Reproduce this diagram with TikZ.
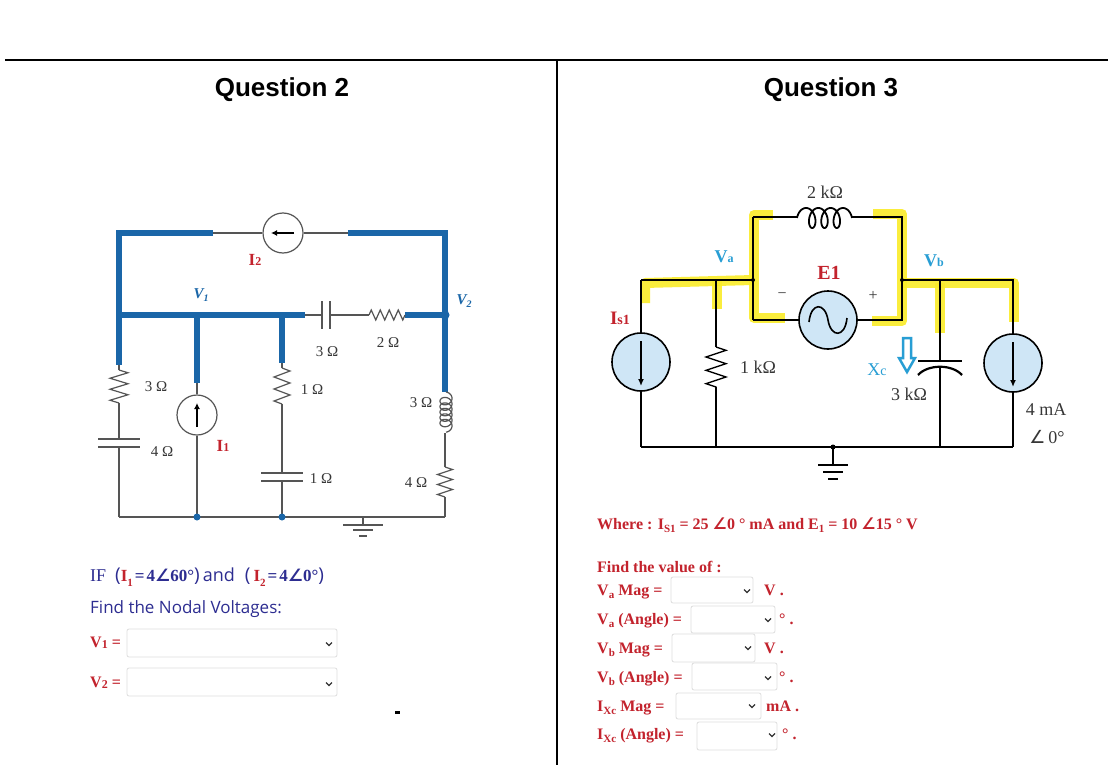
\documentclass[tikz,border=0pt]{standalone}
\usepackage{fontspec}
\setmainfont{Liberation Serif}
\newfontfamily\arialf{Liberation Sans}
\newfontfamily\osans{Open Sans}
\newfontfamily\djv{DejaVu Sans}
\usetikzlibrary{decorations.pathmorphing,arrows.meta}
\definecolor{qblue}{RGB}{26,102,168}
\definecolor{lgray}{RGB}{85,85,85}
\definecolor{navy}{RGB}{45,45,145}
\definecolor{qred}{RGB}{195,35,45}
\definecolor{lblue}{RGB}{40,158,212}
\definecolor{srcfill}{RGB}{207,230,246}
\definecolor{hly}{RGB}{250,236,40}
\definecolor{boxg}{RGB}{222,222,222}
\definecolor{labg}{RGB}{55,55,55}
\newcommand{\angsym}{{\djv ∠}}
\newcommand{\fsz}[1]{\fontsize{#1}{#1}\selectfont}
\newcommand{\lowsub}[2][11]{\raisebox{-3.5pt}{\fsz{#1}#2}}
\newcommand{\chev}[2]{\draw[line width=1.3pt,black!80] (#1-3,#2-1.5) -- (#1,#2+1.5) -- (#1+3,#2-1.5);}
\begin{document}
\begin{tikzpicture}[x=1pt,y=-1pt,
  lw/.style={draw=lgray,line width=1.2pt},
  bw/.style={draw=qblue,line width=6pt},
  rw/.style={draw=black,line width=1.4pt},
  hl/.style={draw=hly,line width=10pt,line join=round,opacity=0.9},
  zz/.style 2 args={decorate,decoration={zigzag,segment length=#1,amplitude=#2}},
  lab/.style={text=labg,font=\fsz{15}},
  rlab/.style={text=labg,font=\fsz{18}},
  bt/.style={text=qred,font=\bfseries\fsz{16},anchor=base west,inner sep=0},
  ddbox/.style={draw=boxg,line width=0.8pt,rounded corners=2pt},
  lsrc/.style={circle,draw=lgray,line width=1.2pt,fill=white,minimum size=40pt,inner sep=0},
  rsrc/.style={circle,draw=black,line width=1.6pt,fill=srcfill,minimum size=58pt,inner sep=0},
]
\useasboundingbox (0,0) rectangle (1110,765);
\fill[white] (0,0) rectangle (1110,765);
% frame
\coordinate (h0) at (5,60); \coordinate (h1) at (1108,60);
\coordinate (v0) at (557,60); \coordinate (v1) at (557,765);
\draw[line width=1.5pt] (h0) -- (h1);
\draw[line width=1.5pt] (v0) -- (v1);
\node[font=\arialf\bfseries\fsz{26},anchor=base] (q2) at (282,97) {Question 2};
\node[font=\arialf\bfseries\fsz{26},anchor=base] (q3) at (831,97) {Question 3};

% ================= LEFT CIRCUIT =================
\coordinate (TL) at (119,233); \coordinate (TLe) at (213,233);
\coordinate (TRs) at (348,233); \coordinate (TR) at (445,233);
\coordinate (A) at (119,315); \coordinate (B) at (197,315); \coordinate (C) at (282,315);
\coordinate (Ce) at (305,315); \coordinate (C3a) at (322,315); \coordinate (C3b) at (330,315);
\coordinate (R2a) at (369,315); \coordinate (R2b) at (405,315); \coordinate (V2n) at (445,315);
\coordinate (L1) at (119,365); \coordinate (R3a) at (119,370); \coordinate (R3b) at (119,403);
\coordinate (C4a) at (119,439); \coordinate (C4b) at (119,447); \coordinate (BL) at (119,517);
\coordinate (B2) at (197,383); \coordinate (BB) at (197,517);
\coordinate (C2) at (282,363); \coordinate (R1a) at (282,368); \coordinate (R1b) at (282,404);
\coordinate (C1a) at (282,473); \coordinate (C1b) at (282,481); \coordinate (CB) at (282,517);
\coordinate (Lt) at (445,392); \coordinate (Lb) at (445,433);
\coordinate (R4a) at (445,467); \coordinate (R4b) at (445,497); \coordinate (BR) at (445,517);
\coordinate (G) at (363,517);

\node[lsrc] (I2s) at (283,233) {};
\node[lsrc] (I1s) at (197,415) {};

\draw[bw] (TLe) -- (TL) -- (L1);
\draw[bw] (A) -- (Ce);
\draw[bw] (B) -- (B2);
\draw[bw] (C) -- (C2);
\draw[bw] (TRs) -- (TR) -- (Lt);
\draw[bw] (R2b) -- (V2n);

\draw[lw] (TLe) -- (I2s.west);
\draw[lw] (I2s.east) -- (TRs);
\draw[-{Latex[length=6pt,width=6pt]},line width=1.5pt] (294,233) -- (271,233);
\draw[lw] (Ce) -- (C3a);
\draw[lw,line width=1.5pt] (322,301) -- (322,329);
\draw[lw,line width=1.5pt] (330,301) -- (330,329);
\draw[lw] (C3b) -- (R2a);
\draw[lw,zz={9pt}{5pt}] (R2a) -- (R2b);

\draw[lw] (L1) -- (R3a);
\draw[lw,zz={11pt}{9pt}] (R3a) -- (R3b);
\draw[lw] (R3b) -- (C4a);
\draw[lw,line width=1.5pt] (98,439) -- (140,439);
\draw[lw,line width=1.5pt] (98,447) -- (140,447);
\draw[lw] (C4b) -- (BL);

\draw[lw] (B2) -- (I1s.north);
\draw[lw] (I1s.south) -- (BB);
\draw[-{Latex[length=6pt,width=6pt]},line width=1.5pt] (197,427) -- (197,403);

\draw[lw] (C2) -- (R1a);
\draw[lw,zz={12pt}{8pt}] (R1a) -- (R1b);
\draw[lw] (R1b) -- (C1a);
\draw[lw,line width=1.5pt] (261,473) -- (303,473);
\draw[lw,line width=1.5pt] (261,481) -- (303,481);
\draw[lw] (C1b) -- (CB);

\draw[lw] plot[domain=pi/2:11.5*pi,samples=300,variable=\t]
  ({446-6*cos(\t r)},{392-0.873*pi/2+5+0.873*\t-5*sin(\t r)});
\draw[lw] (Lb) -- (R4a);
\draw[lw,zz={10pt}{7.5pt}] (R4a) -- (R4b);
\draw[lw] (R4b) -- (BR);
\draw[lw] (BL) -- (BR);
\draw[lw] (G) -- (363,525);
\draw[lw,line width=1.6pt] (343,525) -- (383,525);
\draw[lw,line width=1.6pt] (353,530) -- (373,530);
\draw[lw,line width=1.6pt] (359,536) -- (367,536);
\fill[qblue] (BB) circle (3.5pt);
\fill[qblue] (CB) circle (3.5pt);
\fill[qblue] (V2n) circle (4.5pt);

\node[text=qred,font=\bfseries] (lI2) at (255,260) {\fsz{17}I\fsz{12}2};
\node[text=qred,font=\bfseries] (lI1) at (223,446) {\fsz{17}I\fsz{12}1};
\node[text=qblue,font=\bfseries\itshape] (lV1) at (201,295) {\fsz{15}V\lowsub[10]{1}};
\node[text=qblue,font=\bfseries\itshape] (lV2) at (464,301) {\fsz{15}V\lowsub[10]{2}};
\node[lab] at (327,352) {3 Ω};
\node[lab] at (388,343) {2 Ω};
\node[lab] at (156,387) {3 Ω};
\node[lab] at (162,452) {4 Ω};
\node[lab] at (312,390) {1 Ω};
\node[lab] at (321,479) {1 Ω};
\node[lab] at (421,403) {3 Ω};
\node[lab] at (416,483) {4 Ω};
\fill[black] (395,711) rectangle (400,714);

% left text
\node[anchor=base west,inner sep=0,text=navy] (ifl) at (90,581)
 {\fsz{18}IF\hspace{9pt}{\osans\fsz{19}(}\textcolor{qred}{\bfseries\fsz{17}I\raisebox{-5pt}{\fsz{11}1}}\hspace{2pt}{\bfseries\fsz{17}=\hspace{2pt}4\angsym60°}{\osans\fsz{19})}\hspace{3pt}{\osans\fsz{18}and}\hspace{10pt}{\osans\fsz{19}(}\hspace{3pt}\textcolor{qred}{\bfseries\fsz{17}I\raisebox{-5pt}{\fsz{11}2}}\hspace{2pt}{\bfseries\fsz{17}=\hspace{2pt}4\angsym0°}{\osans\fsz{19})}};
\node[anchor=base west,inner sep=0,text=navy,font=\osans\fsz{17}] (fnv) at (90,613) {Find the Nodal Voltages:};
\node[anchor=base west,inner sep=0,text=qred,font=\bfseries\fsz{16}] (lv1) at (90,647) {V\raisebox{-1pt}{\fsz{12}1} =};
\node[anchor=base west,inner sep=0,text=qred,font=\bfseries\fsz{16}] (lv2) at (90,687) {V\raisebox{-1pt}{\fsz{12}2} =};
\draw[ddbox] (127,629) rectangle (337,657); \chev{329}{644}
\draw[ddbox] (127,668) rectangle (337,696); \chev{329}{684}

% ================= RIGHT CIRCUIT =================
\coordinate (P1) at (641,280); \coordinate (P1b) at (641,447);
\coordinate (Rk) at (716,280); \coordinate (Rka) at (716,347); \coordinate (Rkb) at (716,387); \coordinate (Rkc) at (716,447);
\coordinate (Na) at (753,280); \coordinate (Nat) at (753,217); \coordinate (Nab) at (753,320);
\coordinate (Lka) at (797,217); \coordinate (Lkb) at (852,217);
\coordinate (Nbt) at (902,217); \coordinate (Nb) at (902,280); \coordinate (Nbb) at (902,320);
\coordinate (Cx) at (940,280); \coordinate (Cxa) at (940,361); \coordinate (Cxb) at (940,367); \coordinate (Cxc) at (940,447);
\coordinate (Q1) at (1013,280); \coordinate (Q2) at (1013,447);
\coordinate (G2) at (833,447);

% highlights
\draw[hl] (645,303) -- (645,283) -- (753,280);
\draw[hl] (717,281) -- (717,309);
\draw[hl] (773,215) -- (754,215) -- (754,318) -- (785,318);
\draw[hl] (873,214) -- (902,214) -- (902,321) -- (872,321);
\draw[hl] (902,283) -- (1014,283) -- (1014,322);
\draw[hl] (940,283) -- (940,333);

\node[rsrc] (Is1s) at (641,362) {};
\node[rsrc] (E1s) at (828,320) {};
\node[rsrc] (S2s) at (1013,363) {};

\draw[rw] (P1) -- (Is1s.north);
\draw[rw] (Is1s.south) -- (P1b);
\draw[rw,-{Latex[length=7pt,width=6pt]}] (641,341) -- (641,386);
\draw[rw] (P1) -- (Na);
\draw[rw] (Rk) -- (Rka);
\draw[rw,zz={13.333pt}{10pt}] (Rka) -- (Rkb);
\draw[rw] (Rkb) -- (Rkc);
\draw[rw] (Nat) -- (Nab);
\draw[rw] (Nat) -- (Lka);
\draw[rw,line width=1.8pt] plot[domain=pi/2:7.5*pi,samples=300,variable=\t]
  ({797-1.955*pi/2+6+1.955*\t-6*sin(\t r)},{218+10*cos(\t r)});
\draw[rw] (Lkb) -- (Nbt) -- (Nbb) -- (E1s.east);
\draw[rw] (Nab) -- (E1s.west);
\draw[rw,line width=1.6pt] (809,322) .. controls (811,302) and (825,302) .. (828,320) .. controls (831,338) and (845,338) .. (847,318);
\draw[rw] (Nb) -- (Q1) -- (S2s.north);
\draw[rw] (S2s.south) -- (Q2);
\draw[rw,-{Latex[length=7pt,width=6pt]}] (1013,342) -- (1013,387);
\draw[rw] (Cx) -- (Cxa);
\draw[rw,line width=2.2pt] (918,361) -- (962,361);
\draw[rw,line width=2.2pt] (918,375) .. controls (928,364) and (952,364) .. (962,375);
\draw[rw] (Cxb) -- (Cxc);
\draw[rw] (P1b) -- (Q2);
\fill (G2) circle (2.5pt);
\draw[rw] (G2) -- (833,465);
\draw[line width=2.5pt] (818,465) -- (848,465);
\draw[line width=2.5pt] (823,472) -- (843,472);
\draw[line width=2.5pt] (828,479) -- (838,479);
\fill (Na) circle (2pt);
\fill (Nb) circle (2pt);
% Xc arrow
\draw[lblue,line width=2.5pt,fill=white,line join=miter] (903,338) -- (911,338) -- (911,358) -- (915,358) -- (907,372) -- (899,358) -- (903,358) -- cycle;

\node[text=qred,font=\bfseries] (lIs) at (620,318) {\fsz{19}I\fsz{14}s1};
\node[text=lblue,font=\bfseries] (lVa) at (724,257) {\fsz{18}V\fsz{12}a};
\node[text=lblue,font=\bfseries] (lVb) at (934,261) {\fsz{18}V\fsz{12}b};
\node[text=qred,font=\bfseries\fsz{20}] (lE1) at (829,273) {E1};
\node[rlab] at (825,192) {2 kΩ};
\node[rlab] at (758,367) {1 kΩ};
\node[rlab] at (909,394) {3 kΩ};
\node[rlab] at (1046,410) {4 mA};
\node[rlab] at (1047,437) {\angsym\,0°};
\node[text=lblue,font=\fsz{18}] (lXc) at (877,370) {X\fsz{14}c};
\node[text=labg,font=\fsz{16}] at (782,296) {−};
\node[text=labg,font=\fsz{16}] at (873,296) {+};

% right text
\node[bt] (wh) at (597,529) {Where : I\lowsub{S1} = 25 \angsym0 ° mA and E\lowsub{1} = 10 \angsym15 ° V};
\node[bt] (fv) at (597,572) {Find the value of :};
\node[bt] (t1) at (597,595) {V\lowsub{a} Mag =};
\node[bt] (t2) at (597,624) {V\lowsub{a} (Angle) =};
\node[bt] (t3) at (597,653) {V\lowsub{b} Mag =};
\node[bt] (t4) at (597,682) {V\lowsub{b} (Angle) =};
\node[bt] (t5) at (597,711) {I\lowsub{Xc} Mag =};
\node[bt] (t6) at (597,739) {I\lowsub{Xc} (Angle) =};
\draw[ddbox] (671,577) rectangle (753,603); \chev{747}{591}
\draw[ddbox] (691,606) rectangle (775,633); \chev{768}{620}
\draw[ddbox] (672,634) rectangle (755,662); \chev{748}{648}
\draw[ddbox] (692,663) rectangle (777,690); \chev{768}{678}
\draw[ddbox] (676,693) rectangle (761,719); \chev{752}{706}
\draw[ddbox] (697,722) rectangle (777,750); \chev{772}{735}
\node[bt] (u1) at (764,595) {V .};
\node[bt] (u2) at (779,624) {° .};
\node[bt] (u3) at (764,653) {V .};
\node[bt] (u4) at (779,682) {° .};
\node[bt] (u5) at (766,711) {mA .};
\node[bt] (u6) at (782,739) {° .};
\end{tikzpicture}
\end{document}
